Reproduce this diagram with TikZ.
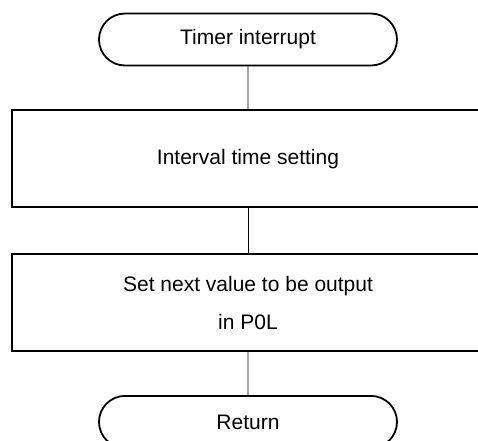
\documentclass[tikz,border=0pt]{standalone}
\usepackage{fontspec}
\setmainfont{Liberation Sans}
\usetikzlibrary{positioning, shapes.misc}

\begin{document}
\begin{tikzpicture}[x=1pt, y=-1pt,
    term/.style={draw, line width=1.8pt, rounded rectangle, minimum width=298pt, minimum height=52pt, inner sep=0pt},
    proc/.style={draw, line width=1.8pt, rectangle, minimum width=472pt, minimum height=97pt, align=center, inner sep=0pt},
    flow/.style={line width=0.9pt},
    font=\fontsize{21}{38}\selectfont]
  \useasboundingbox (0,0) rectangle (478,440);
  \node[term] (start) at (248,39.5) {Timer interrupt};
  \node[proc, below=43pt of start] (interval) {Interval time setting};
  \node[proc, below=45pt of interval] (output) {Set next value to be output\\in P0L};
  \node[term, below=43pt of output] (ret) {Return};
  \draw[flow] (start) -- (interval);
  \draw[flow] (interval) -- (output);
  \draw[flow] (output) -- (ret);
\end{tikzpicture}
\end{document}
